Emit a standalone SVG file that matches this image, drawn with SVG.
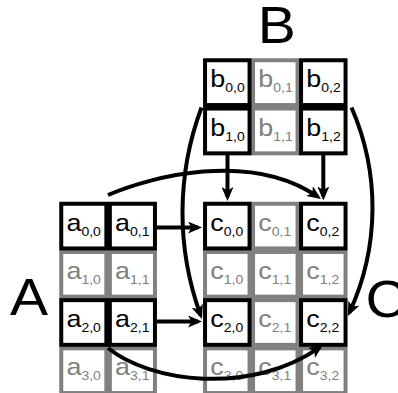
<svg xmlns="http://www.w3.org/2000/svg" width="398" height="393" viewBox="0 0 398 393">
<style>
.k{fill:#fff;stroke:#000;stroke-width:4}
.g{fill:#fff;stroke:#808080;stroke-width:4}
.t{font-family:"Liberation Sans",Arial,sans-serif;font-size:24px;fill:#000}
.tg{font-family:"Liberation Sans",Arial,sans-serif;font-size:24px;fill:#808080}
.s{font-size:12.5px}
.big{font-family:"Liberation Sans",Arial,sans-serif;font-size:51px;fill:#000}
.c{fill:none;stroke:#000;stroke-width:4;marker-end:url(#ah)}
</style>
<defs>
<marker id="ah" viewBox="0 0 14 12" refX="10" refY="6" markerWidth="14" markerHeight="12" markerUnits="userSpaceOnUse" orient="auto">
<path d="M0,0 L14,6 L0,12 L3.5,6 z" fill="#000"/>
</marker>
</defs>
<rect width="398" height="393" fill="#fff"/>

<g id="label-A"><text class="big" transform="translate(10,315) scale(1.12,1)">A</text></g>
<g id="label-B"><text class="big" transform="translate(257.8,43.3) scale(1.12,1)">B</text></g>
<g id="label-C"><text class="big" transform="translate(365.4,317) scale(1.12,1)">C</text></g>

<g id="matrix-B">
<g id="b01"><rect class="g" x="253.05" y="60.25" width="44.5" height="44.8"/><text class="tg" transform="translate(258.3,87.2) scale(1.12,1)">b<tspan class="s" dy="5">0,1</tspan></text></g>
<g id="b11"><rect class="g" x="253.05" y="108.55" width="44.5" height="44.8"/><text class="tg" transform="translate(258.3,135.5) scale(1.12,1)">b<tspan class="s" dy="5">1,1</tspan></text></g>
<g id="b00"><rect class="k" x="205.05" y="60.25" width="44.5" height="44.8"/><text class="t" transform="translate(210.3,87.2) scale(1.12,1)">b<tspan class="s" dy="5">0,0</tspan></text></g>
<g id="b02"><rect class="k" x="301.05" y="60.25" width="44.5" height="44.8"/><text class="t" transform="translate(306.3,87.2) scale(1.12,1)">b<tspan class="s" dy="5">0,2</tspan></text></g>
<g id="b10"><rect class="k" x="205.05" y="108.55" width="44.5" height="44.8"/><text class="t" transform="translate(210.3,135.5) scale(1.12,1)">b<tspan class="s" dy="5">1,0</tspan></text></g>
<g id="b12"><rect class="k" x="301.05" y="108.55" width="44.5" height="44.8"/><text class="t" transform="translate(306.3,135.5) scale(1.12,1)">b<tspan class="s" dy="5">1,2</tspan></text></g>
</g>

<g id="matrix-A">
<g id="a10"><rect class="g" x="61.25" y="251.95" width="45.1" height="44.7"/><text class="tg" transform="translate(66.5,278.9) scale(1.12,1)">a<tspan class="s" dy="5">1,0</tspan></text></g>
<g id="a11"><rect class="g" x="109.85" y="251.95" width="45.1" height="44.7"/><text class="tg" transform="translate(115.1,278.9) scale(1.12,1)">a<tspan class="s" dy="5">1,1</tspan></text></g>
<g id="a30"><rect class="g" x="61.25" y="348.35" width="45.1" height="44.7"/><text class="tg" transform="translate(66.5,375.3) scale(1.12,1)">a<tspan class="s" dy="5">3,0</tspan></text></g>
<g id="a31"><rect class="g" x="109.85" y="348.35" width="45.1" height="44.7"/><text class="tg" transform="translate(115.1,375.3) scale(1.12,1)">a<tspan class="s" dy="5">3,1</tspan></text></g>
<g id="a00"><rect class="k" x="61.25" y="203.75" width="45.1" height="44.7"/><text class="t" transform="translate(66.5,230.7) scale(1.12,1)">a<tspan class="s" dy="5">0,0</tspan></text></g>
<g id="a01"><rect class="k" x="109.85" y="203.75" width="45.1" height="44.7"/><text class="t" transform="translate(115.1,230.7) scale(1.12,1)">a<tspan class="s" dy="5">0,1</tspan></text></g>
<g id="a20"><rect class="k" x="61.25" y="300.15" width="45.1" height="44.7"/><text class="t" transform="translate(66.5,327.1) scale(1.12,1)">a<tspan class="s" dy="5">2,0</tspan></text></g>
<g id="a21"><rect class="k" x="109.85" y="300.15" width="45.1" height="44.7"/><text class="t" transform="translate(115.1,327.1) scale(1.12,1)">a<tspan class="s" dy="5">2,1</tspan></text></g>
</g>

<g id="matrix-C">
<g id="c01"><rect class="g" x="253.05" y="203.75" width="44.5" height="44.7"/><text class="tg" transform="translate(258.3,230.7) scale(1.12,1)">c<tspan class="s" dy="5">0,1</tspan></text></g>
<g id="c10"><rect class="g" x="205.05" y="251.95" width="44.5" height="44.7"/><text class="tg" transform="translate(210.3,278.9) scale(1.12,1)">c<tspan class="s" dy="5">1,0</tspan></text></g>
<g id="c11"><rect class="g" x="253.05" y="251.95" width="44.5" height="44.7"/><text class="tg" transform="translate(258.3,278.9) scale(1.12,1)">c<tspan class="s" dy="5">1,1</tspan></text></g>
<g id="c12"><rect class="g" x="301.05" y="251.95" width="44.5" height="44.7"/><text class="tg" transform="translate(306.3,278.9) scale(1.12,1)">c<tspan class="s" dy="5">1,2</tspan></text></g>
<g id="c21"><rect class="g" x="253.05" y="300.15" width="44.5" height="44.7"/><text class="tg" transform="translate(258.3,327.1) scale(1.12,1)">c<tspan class="s" dy="5">2,1</tspan></text></g>
<g id="c30"><rect class="g" x="205.05" y="348.35" width="44.5" height="44.7"/><text class="tg" transform="translate(210.3,375.3) scale(1.12,1)">c<tspan class="s" dy="5">3,0</tspan></text></g>
<g id="c31"><rect class="g" x="253.05" y="348.35" width="44.5" height="44.7"/><text class="tg" transform="translate(258.3,375.3) scale(1.12,1)">c<tspan class="s" dy="5">3,1</tspan></text></g>
<g id="c32"><rect class="g" x="301.05" y="348.35" width="44.5" height="44.7"/><text class="tg" transform="translate(306.3,375.3) scale(1.12,1)">c<tspan class="s" dy="5">3,2</tspan></text></g>
<g id="c00"><rect class="k" x="205.05" y="203.75" width="44.5" height="44.7"/><text class="t" transform="translate(210.3,230.7) scale(1.12,1)">c<tspan class="s" dy="5">0,0</tspan></text></g>
<g id="c02"><rect class="k" x="301.05" y="203.75" width="44.5" height="44.7"/><text class="t" transform="translate(306.3,230.7) scale(1.12,1)">c<tspan class="s" dy="5">0,2</tspan></text></g>
<g id="c20"><rect class="k" x="205.05" y="300.15" width="44.5" height="44.7"/><text class="t" transform="translate(210.3,327.1) scale(1.12,1)">c<tspan class="s" dy="5">2,0</tspan></text></g>
<g id="c22"><rect class="k" x="301.05" y="300.15" width="44.5" height="44.7"/><text class="t" transform="translate(306.3,327.1) scale(1.12,1)">c<tspan class="s" dy="5">2,2</tspan></text></g>
</g>

<g id="connectors">
<path class="c" d="M227.5,155 L227.5,197"/>
<path class="c" d="M323.3,155 L323.3,196.5"/>
<path class="c" d="M157,227.5 L198,227.5"/>
<path class="c" d="M157,321.5 L198,321.5"/>
<path class="c" d="M108,195 C150,177 250,150 317.7,196.7"/>
<path class="c" d="M201.5,107.5 A300,300 0 0 0 200.6,315.2"/>
<path class="c" d="M351.5,107.5 A250,250 0 0 1 349.6,312.3"/>
<path class="c" d="M108,348 C150,382 250,396 319.7,347.3"/>
</g>
</svg>
